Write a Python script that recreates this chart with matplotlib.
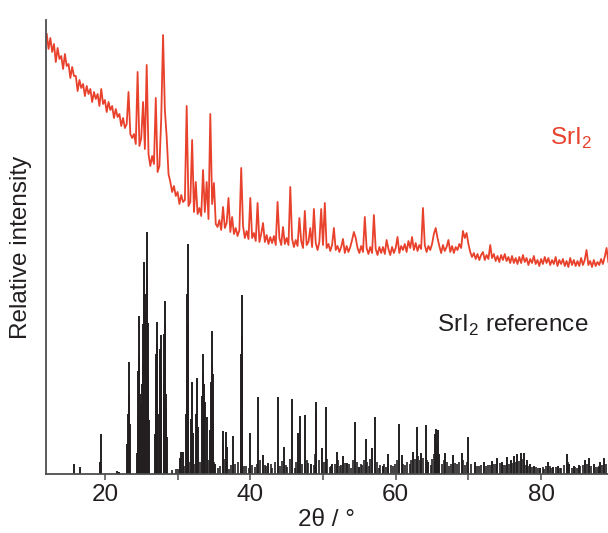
import numpy as np
import matplotlib
matplotlib.use('Agg')
import matplotlib.pyplot as plt

plt.rcParams['font.family'] = ['Liberation Sans', 'DejaVu Sans']
plt.rcParams['mathtext.fontset'] = 'custom'
plt.rcParams['mathtext.rm'] = 'Liberation Sans'

# measured SrI2 pattern, 2theta from 12.0 in 0.25 deg steps (counts, arb. units)
red_start = 12.0
red_step = 0.25
red_counts = [
    440, 425, 436, 422,  430, 412, 426, 415,  418, 405, 420, 408,  410, 396, 407, 398,   # 12-15
    398, 383, 394, 386,  390, 378, 388, 380,  385, 372, 382, 375,  380, 368, 385, 370,   # 16-19
    374, 362, 372, 364,  368, 356, 365, 357,  360, 348, 356, 346,  350, 382, 340, 336,   # 20-23
    340, 330, 402, 328,  336, 372, 325, 409,  320, 308, 318, 310,  376, 302, 308, 356,   # 24-27
    439, 364, 337, 300,  292, 282, 288, 278,  282, 270, 279, 272,  274, 368, 268, 272,   # 28-31
    334, 262, 292, 260,  266, 258, 304, 262,  292, 255, 360, 270,  291, 250, 247, 254,   # 32-35
    244, 267, 246, 251,  276, 242, 257, 240,  246, 238, 244, 306,  248, 236, 243, 235,   # 36-39
    276, 236, 241, 233,  271, 232, 240, 251,  232, 239, 230, 237,  231, 238, 229, 272,   # 40-43
    236, 229, 247, 230,  236, 229, 287, 235,  227, 234, 228, 256,  233, 226, 263, 229,   # 44-47
    232, 246, 227, 265,  231, 224, 232, 265,  229, 271, 226, 230,  223, 229, 246, 224,   # 48-51
    228, 222, 227, 235,  221, 228, 222, 227,  234, 242, 236, 226,  221, 228, 222, 257,   # 52-55
    226, 220, 227, 221,  259, 225, 219, 227,  221, 227, 220, 234,  225, 219, 227, 221,   # 56-59
    226, 237, 221, 228,  224, 230, 222, 233,  226, 237, 224, 231,  223, 229, 225, 266,   # 60-63
    229, 222, 228, 224,  230, 240, 246, 236,  228, 221, 229, 223,  227, 234, 222, 228,   # 64-67
    221, 227, 224, 230,  226, 243, 236, 241,  230, 222, 217, 221,  215, 220, 214, 219,   # 68-71
    222, 214, 219, 215,  229, 216, 220, 213,  218, 212, 219, 214,  220, 213, 217, 211,   # 72-75
    218, 211, 216, 210,  217, 211, 219, 212,  216, 209, 215, 211,  218, 210, 214, 208,   # 76-79
    215, 210, 217, 211,  216, 209, 214, 210,  217, 208, 214, 210,  215, 208, 213, 207,   # 80-83
    216, 209, 214, 208,  213, 208, 216, 209,  214, 224, 209, 213,  207, 214, 208, 212,   # 84-87
    209, 215, 210, 217,  226, 212,                                                       # 88-89
]

# SrI2 reference pattern: peak positions (2theta) and intensities
ref_pos = [15.8, 16.6, 19.3, 19.45, 21.6, 21.9, 23.2, 23.3, 23.45, 24.4,
           24.55, 24.65, 24.8, 24.95, 25.2, 25.3, 25.4, 25.5, 25.6, 25.7,
           25.8, 25.9, 26.05, 26.9, 27.0, 27.1, 27.2, 27.4, 27.55, 27.65,
           27.75, 28.1, 28.2, 28.3, 28.45, 28.6, 30.3, 30.5, 30.7, 31.2,
           31.3, 31.37, 31.45, 31.9, 32.0, 32.1, 32.55, 32.65, 32.75, 33.4,
           33.55, 33.7, 33.8, 34.0, 34.5, 34.65, 34.76, 34.9, 35.2, 36.2,
           36.3, 36.6, 36.75, 37.65, 38.7, 38.8, 38.9, 40.0, 41.1, 41.8,
           42.5, 43.75, 44.6, 45.7, 46.6, 46.8, 47.55, 48.3, 49.0, 49.1,
           49.8, 50.35, 51.3, 51.9, 52.8, 53.3, 54.45, 55.0, 55.9, 56.7,
           57.1, 58.2, 59.0, 60.45, 60.8, 62.4, 62.95, 63.5, 64.1, 64.5,
           65.4, 65.55, 65.8, 66.0, 66.8, 67.9, 69.1, 70.0, 70.9, 72.1,
           73.3, 74.0, 74.6, 75.3, 75.8, 76.3, 76.7, 77.2, 77.6, 78.0,
           78.5, 79.0, 79.8, 80.9, 81.6, 82.3, 83.5, 83.9, 84.5, 85.2,
           86.0, 86.6, 87.3, 88.1, 88.7,
           23.1, 23.35, 24.5, 24.7, 24.9, 25.05, 25.15, 25.35, 25.45, 25.55,
           25.65, 25.75, 25.85, 25.95, 27.05, 27.15, 27.6, 27.7, 28.15, 28.25,
           28.4, 31.25, 31.33, 31.42, 33.5, 33.6, 34.7, 34.82, 38.75, 38.85]
ref_int = [10, 7, 12, 40, 3, 2, 60, 112, 50, 21,
           103, 158, 80, 54, 111, 150, 212, 120, 146, 180,
           242, 151, 54, 40, 100, 152, 81, 60, 110, 139,
           67, 90, 173, 111, 65, 37, 16, 22, 22, 60,
           129, 230, 100, 55, 92, 41, 60, 96, 47, 78,
           120, 60, 72, 57, 44, 92, 143, 50, 10, 30,
           43, 42, 27, 38, 60, 179, 40, 41, 77, 19,
           11, 77, 27, 75, 41, 58, 59, 10, 62, 72,
           26, 67, 10, 22, 18, 11, 52, 7, 35, 26,
           57, 8, 20, 50, 19, 22, 47, 21, 49, 12,
           40, 45, 44, 20, 21, 19, 21, 37, 12, 12,
           13, 16, 12, 17, 14, 18, 20, 21, 21, 14,
           10, 8, 6, 12, 7, 8, 20, 10, 8, 9,
           14, 16, 10, 12, 16,
           30, 80, 60, 120, 70, 40, 90, 180, 160, 130,
           160, 200, 190, 100, 120, 130, 125, 100, 140, 150,
           80, 90, 180, 150, 100, 90, 110, 100, 120, 138]

# small background reflections of the reference
ref_minor_pos = [29.2, 29.8, 30.0, 30.9, 31.6, 32.3, 33.1, 34.2, 35.0, 35.6,
                 35.9, 36.45, 37.1, 37.3, 37.9, 38.3, 39.1, 39.4, 39.8, 40.3,
                 40.6, 40.9, 41.4, 42.0, 42.2, 42.9, 43.0, 43.4, 44.1, 44.3,
                 44.9, 45.1, 45.4, 46.1, 46.3, 47.1, 47.8, 48.0, 48.7, 48.9,
                 49.5, 50.1, 50.6, 50.9, 51.1, 51.6, 52.0, 52.3, 52.5, 53.0,
                 53.6, 53.8, 54.1, 54.7, 55.2, 55.4, 55.7, 56.1, 56.3, 56.5,
                 57.4, 57.7, 57.9, 58.4, 58.6, 58.9, 59.3, 59.6, 59.9, 60.2,
                 61.0, 61.3, 61.6, 61.9, 62.1, 62.7, 63.1, 63.3, 63.8, 64.3,
                 64.8, 65.0, 65.2, 65.7, 66.3, 66.6, 67.1, 67.3, 67.6, 68.1,
                 68.4, 68.7, 69.3, 69.5, 69.8, 70.3, 71.2, 71.5, 71.8, 72.4,
                 72.7, 73.0, 73.5, 73.8, 74.3, 74.8, 75.0, 75.6, 76.0, 76.5,
                 77.0, 77.4, 77.9, 78.2, 78.8, 79.3, 79.6, 80.2, 80.4, 80.7,
                 81.2, 81.4, 82.0, 82.6, 82.8, 83.2, 83.7, 84.2, 84.7, 84.9,
                 85.4, 85.7, 86.3, 86.9, 87.6, 87.8, 88.0, 88.4, 88.9]
ref_minor_int = [4, 5, 5, 8, 12, 10, 12, 14, 12, 6,
                 8, 15, 5, 9, 10, 12, 8, 8, 6, 9,
                 7, 10, 14, 9, 8, 10, 6, 12, 8, 13,
                 9, 7, 15, 6, 12, 10, 14, 11, 9, 20,
                 14, 12, 15, 7, 8, 10, 14, 8, 9, 11,
                 10, 6, 14, 12, 10, 9, 14, 12, 8, 15,
                 12, 6, 9, 10, 7, 13, 9, 8, 10, 14,
                 10, 9, 12, 10, 14, 15, 18, 14, 16, 14,
                 9, 15, 20, 30, 10, 14, 12, 8, 10, 11,
                 10, 12, 14, 9, 12, 10, 8, 8, 9, 8,
                 9, 9, 10, 10, 11, 9, 9, 10, 11, 12,
                 13, 15, 9, 8, 7, 7, 6, 7, 5, 8,
                 8, 6, 7, 6, 6, 9, 12, 6, 7, 6,
                 8, 9, 10, 8, 7, 7, 8, 9, 10]

xticks_major = [20, 40, 60, 80]
xticks_minor = [30, 50, 70]

red = '#e8412c'
dark = '#231f20'
fontsize = 17.5

fig = plt.figure(figsize=(6.08, 5.33), dpi=100)
ax = fig.add_axes([46 / 608, 59 / 533, 1 - 46 / 608, 454 / 533])

red_x = red_start + red_step * np.arange(len(red_counts))
ax.plot(red_x, red_counts, color=red, linewidth=1.3)
ax.vlines(ref_pos, 0, ref_int, color=dark, linewidth=1.4)
ax.vlines(ref_minor_pos, 0, ref_minor_int, color=dark, linewidth=1.2)

ax.set_xlim(11.9, 89.2)
ax.set_ylim(0, 454)

for side in ['top', 'right']:
    ax.spines[side].set_visible(False)
for side in ['left', 'bottom']:
    ax.spines[side].set_color('#4d4d4f')
    ax.spines[side].set_linewidth(1.3)

ax.set_yticks([])
ax.set_xticks(xticks_major)
ax.set_xticks(xticks_minor, minor=True)
ax.tick_params(axis='x', which='both', direction='out', length=4, width=1.1,
               color='#4d4d4f', labelsize=fontsize, labelcolor=dark, pad=3)

ax.set_xlabel('2θ / °', fontsize=fontsize, color=dark, labelpad=2)
ax.set_ylabel('Relative intensity', fontsize=fontsize, color=dark, labelpad=10)

ax.text(81.2, 329, r'SrI$_\mathregular{2}$', color=red, fontsize=fontsize,
        ha='left', va='baseline')
ax.text(65.7, 142, r'SrI$_\mathregular{2}$ reference', color=dark, fontsize=fontsize,
        ha='left', va='baseline')

fig.savefig('out.png', dpi=100)
